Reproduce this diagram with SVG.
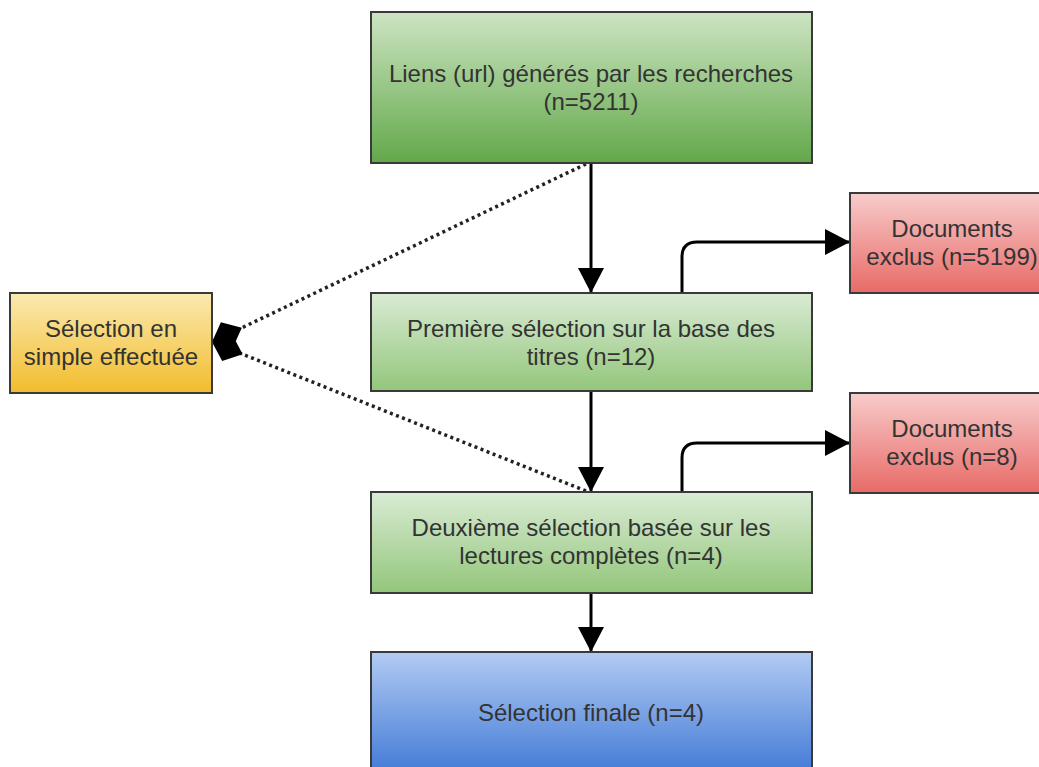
<svg xmlns="http://www.w3.org/2000/svg" width="1039" height="767" viewBox="0 0 1039 767">
  <defs>
    <linearGradient id="gTop" x1="0" y1="0" x2="0" y2="1">
      <stop offset="0" stop-color="#cde4c2"/>
      <stop offset="1" stop-color="#62a84a"/>
    </linearGradient>
    <linearGradient id="gGreen" x1="0" y1="0" x2="0" y2="1">
      <stop offset="0" stop-color="#d9ebd4"/>
      <stop offset="1" stop-color="#93c67b"/>
    </linearGradient>
    <linearGradient id="gRed" x1="0" y1="0" x2="0" y2="1">
      <stop offset="0" stop-color="#f7cccb"/>
      <stop offset="1" stop-color="#e86a67"/>
    </linearGradient>
    <linearGradient id="gYellow" x1="0" y1="0" x2="0" y2="1">
      <stop offset="0" stop-color="#fbe9b0"/>
      <stop offset="1" stop-color="#f2bd2c"/>
    </linearGradient>
    <linearGradient id="gBlue" x1="0" y1="0" x2="0" y2="1">
      <stop offset="0" stop-color="#b2cbf2"/>
      <stop offset="1" stop-color="#3f78d6"/>
    </linearGradient>
    <marker id="arrow" markerUnits="userSpaceOnUse" markerWidth="28" markerHeight="28" refX="25" refY="13" orient="auto">
      <path d="M0,0 L25,13 L0,26 z" fill="#000"/>
    </marker>
    <marker id="diamond" markerUnits="userSpaceOnUse" markerWidth="36" markerHeight="30" refX="33" refY="14" orient="auto">
      <path d="M0,14 L16.5,0 L33,14 L16.5,28 z" fill="#000"/>
    </marker>
  </defs>
  <style>
    .box { stroke: #3a3a3a; stroke-width: 2; }
    .t { font-family: "Liberation Sans", Arial, sans-serif; font-size: 24px; fill: #333; text-anchor: middle; }
    .solid { fill: none; stroke: #000; stroke-width: 3; }
    .dot { fill: none; stroke: #222; stroke-width: 3.5; stroke-dasharray: 3 3.5; }
  </style>
  <rect width="1039" height="767" fill="#fff"/>

  <g id="connectors">
    <path class="solid" d="M591,163 V293" marker-end="url(#arrow)"/>
    <path class="solid" d="M591,391 V492" marker-end="url(#arrow)"/>
    <path class="solid" d="M591,593 V652" marker-end="url(#arrow)"/>
    <path class="solid" d="M682,293 V257 Q682,242 697,242 H850" marker-end="url(#arrow)"/>
    <path class="solid" d="M682,492 V458 Q682,443 697,443 H850" marker-end="url(#arrow)"/>
    <path class="dot" d="M586,164 L212,342" marker-end="url(#diamond)"/>
    <path class="dot" d="M586,491 L212,342" marker-end="url(#diamond)"/>
  </g>

  <g id="n-liens">
    <rect class="box" x="371" y="12" width="441" height="151" fill="url(#gTop)"/>
    <text class="t" x="591" y="82">Liens (url) générés par les recherches</text>
    <text class="t" x="591" y="110">(n=5211)</text>
  </g>
  <g id="n-premiere">
    <rect class="box" x="371" y="293" width="441" height="98" fill="url(#gGreen)"/>
    <text class="t" x="591" y="337">Première sélection sur la base des</text>
    <text class="t" x="591" y="365">titres (n=12)</text>
  </g>
  <g id="n-deuxieme">
    <rect class="box" x="371" y="492" width="441" height="101" fill="url(#gGreen)"/>
    <text class="t" x="591" y="536">Deuxième sélection basée sur les</text>
    <text class="t" x="591" y="564">lectures complètes (n=4)</text>
  </g>
  <g id="n-finale">
    <rect class="box" x="371" y="652" width="441" height="125" fill="url(#gBlue)"/>
    <text class="t" x="591" y="721">Sélection finale (n=4)</text>
  </g>
  <g id="n-exclus1">
    <rect class="box" x="850" y="193" width="205" height="100" fill="url(#gRed)"/>
    <text class="t" x="952" y="237">Documents</text>
    <text class="t" x="952" y="265">exclus (n=5199)</text>
  </g>
  <g id="n-exclus2">
    <rect class="box" x="850" y="393" width="205" height="100" fill="url(#gRed)"/>
    <text class="t" x="952" y="437">Documents</text>
    <text class="t" x="952" y="465">exclus (n=8)</text>
  </g>
  <g id="n-selection-simple">
    <rect class="box" x="10" y="293" width="202" height="100" fill="url(#gYellow)"/>
    <text class="t" x="111" y="337">Sélection en</text>
    <text class="t" x="111" y="365">simple effectuée</text>
  </g>
</svg>
